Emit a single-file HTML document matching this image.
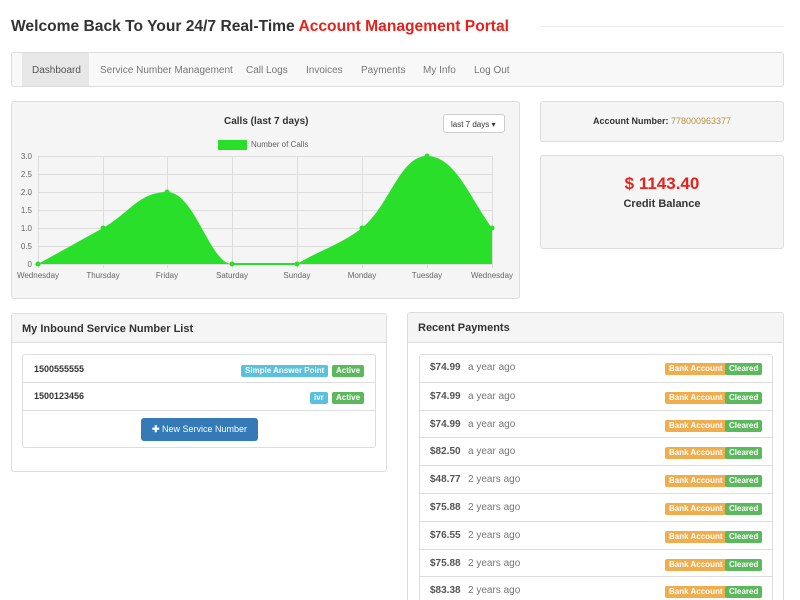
<!DOCTYPE html>
<html style="overflow:hidden"><head><style>
html,body{overflow:hidden;height:600px}
body{margin:0;width:800px;height:600px;overflow:hidden;background:#fff;font-family:"Liberation Sans",sans-serif;color:#333;position:relative}
.a{position:absolute}
.panel{position:absolute;border:1px solid #ddd;border-radius:3px;box-sizing:border-box}
.lbl{position:absolute;font-size:8px;font-weight:bold;color:#fff;padding:1px 4px;border-radius:2px;line-height:10px}
.row{position:absolute;left:0;right:0;height:28px;border-top:1px solid #ddd;font-size:10px}
</style></head><body>
<div class="a" style="left:11px;top:18px;font-size:15.6px;font-weight:bold;color:#333;white-space:nowrap">Welcome Back To Your 24/7 Real-Time <span style="color:#e8211c">Account Management Portal</span></div>
<div class="a" style="left:540px;top:26px;width:243px;height:1px;background:#eee"></div>
<div class="panel" style="left:11px;top:52px;width:773px;height:35px;background:#f8f8f8;font-size:10px;color:#777">
<div class="a" style="left:10px;top:0;width:67px;height:33px;background:#e7e7e7"></div>
<span class="a" style="left:20px;top:12px;color:#555">Dashboard</span>
<span class="a" style="left:88px;top:12px">Service Number Management</span>
<span class="a" style="left:234px;top:12px">Call Logs</span>
<span class="a" style="left:294px;top:12px">Invoices</span>
<span class="a" style="left:349px;top:12px">Payments</span>
<span class="a" style="left:411px;top:12px">My Info</span>
<span class="a" style="left:462px;top:12px">Log Out</span>
</div>
<div class="panel" style="left:11px;top:101px;width:509px;height:198px;background:#f5f5f5"></div>
<div class="a" style="left:224px;top:116px;font-size:10px;font-weight:bold">Calls (last 7 days)</div>
<div class="a" style="left:443px;top:114px;width:62px;height:19px;background:#fff;border:1px solid #ccc;border-radius:3px;box-sizing:border-box;font-size:8px;padding:5px 0 0 7px">last 7 days ▾</div>
<div class="a" style="left:218px;top:140px;width:29px;height:10px;background:#2adf2a"></div>
<div class="a" style="left:251px;top:140px;font-size:8px;color:#666">Number of Calls</div>
<svg class="a" style="left:0;top:0" width="800" height="600">
<g stroke="#ddd" stroke-width="1">
<line x1="38" y1="156.5" x2="492" y2="156.5"/><line x1="38" y1="174.5" x2="492" y2="174.5"/><line x1="38" y1="192.5" x2="492" y2="192.5"/><line x1="38" y1="210.5" x2="492" y2="210.5"/><line x1="38" y1="228.5" x2="492" y2="228.5"/><line x1="38" y1="246.5" x2="492" y2="246.5"/><line x1="34" y1="264.5" x2="492" y2="264.5"/>
<line x1="38.5" y1="156" x2="38.5" y2="268"/><line x1="103.5" y1="156" x2="103.5" y2="268"/><line x1="167.5" y1="156" x2="167.5" y2="268"/><line x1="232.5" y1="156" x2="232.5" y2="268"/><line x1="297.5" y1="156" x2="297.5" y2="268"/><line x1="362.5" y1="156" x2="362.5" y2="268"/><line x1="427.5" y1="156" x2="427.5" y2="268"/><line x1="492.5" y1="156" x2="492.5" y2="268"/>
</g>
<path d="M38,264 L103,228 C130,212 140,192 167,192 C195,192 210,264 232,264 L297,264 C320,250 340,245 362,228 C390,205 400,156 427,156 C455,156 470,198 492,228 L492,264 Z" fill="#2adf2a"/>
<line x1="232" y1="264" x2="297" y2="264" stroke="#2adf2a" stroke-width="2"/>
<g fill="#2adf2a"><circle cx="38" cy="264" r="2.5"/><circle cx="103" cy="228" r="2.5"/><circle cx="167" cy="192" r="2.5"/><circle cx="232" cy="264" r="2.5"/><circle cx="297" cy="264" r="2.5"/><circle cx="362" cy="228" r="2.5"/><circle cx="427" cy="156" r="2.5"/><circle cx="492" cy="228" r="2.5"/></g>
<g font-family="Liberation Sans" font-size="8" fill="#666" text-anchor="end">
<text x="32" y="159">3.0</text><text x="32" y="177">2.5</text><text x="32" y="195">2.0</text><text x="32" y="213">1.5</text><text x="32" y="231">1.0</text><text x="32" y="249">0.5</text><text x="32" y="267">0</text></g>
<g font-family="Liberation Sans" font-size="8" fill="#666" text-anchor="middle">
<text x="38" y="278">Wednesday</text><text x="103" y="278">Thursday</text><text x="167" y="278">Friday</text><text x="232" y="278">Saturday</text><text x="297" y="278">Sunday</text><text x="362" y="278">Monday</text><text x="427" y="278">Tuesday</text><text x="492" y="278">Wednesday</text></g>
</svg>
<div class="panel" style="left:540px;top:101px;width:244px;height:41px;background:#f5f5f5;font-size:9px;font-weight:bold;text-align:center;padding-top:14px">Account Number: <span style="color:#b8923a;font-weight:normal">778000963377</span></div>
<div class="panel" style="left:540px;top:155px;width:244px;height:94px;background:#f5f5f5;text-align:center">
<div style="margin-top:18px;font-size:17px;font-weight:bold;color:#e8211c">$ 1143.40</div>
<div style="margin-top:4px;font-size:11px;font-weight:bold">Credit Balance</div></div>

<div class="panel" style="left:11px;top:313px;width:376px;height:159px">
<div style="height:29px;background:#f5f5f5;border-bottom:1px solid #ddd;font-size:11px;font-weight:bold;padding:9px 0 0 10px;box-sizing:border-box">My Inbound Service Number List</div>
<div class="panel" style="left:10px;top:40px;width:354px;height:94px">
<div class="a" style="left:11px;top:9px;font-size:9px;font-weight:bold">1500555555</div>
<div class="lbl" style="left:218px;top:10px;background:#5bc0de">Simple Answer Point</div>
<div class="lbl" style="left:309px;top:10px;background:#5cb85c">Active</div>
<div class="row" style="top:27px"><div class="a" style="left:11px;top:8px;font-size:9px;font-weight:bold">1500123456</div>
<div class="lbl" style="left:287px;top:9px;background:#5bc0de">ivr</div>
<div class="lbl" style="left:309px;top:9px;background:#5cb85c">Active</div></div>
<div class="row" style="top:55px;border-top:1px solid #ddd;height:0"></div>
<div class="a" style="left:118px;top:63px;width:117px;height:23px;background:#337ab7;border-radius:3px;color:#fff;font-size:9px;text-align:center;line-height:23px"><b>✚</b> New Service Number</div>
</div></div>

<div class="panel" style="left:407px;top:312px;width:377px;height:288px;border-bottom:none;border-radius:3px 3px 0 0;overflow:hidden">
<div style="height:30px;background:#f5f5f5;border-bottom:1px solid #ddd;font-size:11px;font-weight:bold;padding:9px 0 0 10px;box-sizing:border-box">Recent Payments</div>
<div class="panel" style="left:11px;top:41px;width:354px;height:280px;border-radius:3px">
<div id="rows"></div>
</div></div>
<script>
var d=[["$74.99","a year ago"],["$74.99","a year ago"],["$74.99","a year ago"],["$82.50","a year ago"],["$48.77","2 years ago"],["$75.88","2 years ago"],["$76.55","2 years ago"],["$75.88","2 years ago"],["$83.38","2 years ago"]];
var h="";d.forEach(function(r,i){h+='<div class="row" style="top:'+(i*27.8-1)+'px;'+(i==0?'border-top:none':'')+'"><span class="a" style="left:10px;top:8px;font-weight:bold;color:#555">'+r[0]+'</span><span class="a" style="left:48px;top:8px;color:#777">'+r[1]+'</span><span class="lbl" style="left:245px;top:9px;background:#f0ad4e">Bank Account</span><span class="lbl" style="left:305px;top:9px;background:#5cb85c">Cleared</span></div>'});
document.getElementById("rows").innerHTML=h;
</script>
</body></html>
